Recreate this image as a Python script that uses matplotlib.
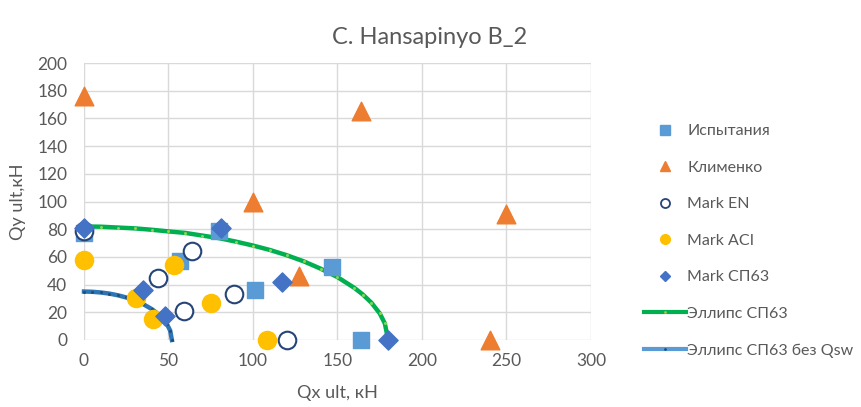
import matplotlib.pyplot as plt
from matplotlib.lines import Line2D

plt.rcParams['font.family'] = ['Lato', 'DejaVu Sans']

# data
test_x = [0, 57, 80, 101, 147, 164]
test_y = [77, 57, 79, 36, 53, 0]

klim_x = [0, 100, 164, 127, 250, 240]
klim_y = [176, 100, 165, 46, 91, 0]

en_x = [0, 44, 64, 59, 89, 120]
en_y = [79, 45, 64, 21, 33, 0]

aci_x = [0, 31, 41, 53, 75, 108]
aci_y = [58, 30, 15, 54, 27, 0]

sp_x = [0, 35, 48, 81, 117, 180]
sp_y = [81, 36, 17, 81, 42, 0]

ell_x = [0, 10, 20, 30, 40, 50, 60, 70, 80, 90, 100, 110, 120, 130, 140,
         150, 160, 165, 170, 175, 178, 180]
ell_y = [82, 81.8, 81.2, 80.6, 79.6, 78.4, 77.3, 75.4, 73.5, 71, 68.2, 65,
         61.2, 56.8, 51.5, 45.4, 37.6, 32.8, 27, 19.2, 12, 0]

ell2_x = [0, 5, 10, 15, 20, 25, 30, 35, 40, 44, 47, 49, 51, 52]
ell2_y = [35, 34.8, 34.3, 33.5, 32.3, 30.7, 28.6, 25.9, 22.4, 18.7, 15.0,
          11.6, 6.8, 0]

fig = plt.figure(figsize=(8.62, 4.07), dpi=100)
ax = fig.add_axes([84 / 862, 1 - 340 / 407, 507 / 862, 277 / 407])

gray = '#595959'

ax.plot(ell_x, ell_y, color='#00B050', lw=3.2, marker='o', ms=2.2,
        mfc='#92D050', mec='none', zorder=2, label='Эллипс СП63')
ax.plot(ell2_x, ell2_y, color='#2E75B6', lw=3.2, marker='o', ms=2.2,
        mfc='#1F4E79', mec='none', zorder=2, label='Эллипс СП63 без Qsw')

ax.scatter(test_x, test_y, marker='s', s=140, color='#5B9BD5', zorder=3,
           label='Испытания')
ax.scatter(klim_x, klim_y, marker='^', s=180, color='#ED7D31', zorder=3,
           label='Клименко')
ax.scatter(en_x, en_y, marker='o', s=160, facecolor='white',
           edgecolor='#264478', linewidth=1.5, zorder=3, label='Mark EN')
ax.scatter(aci_x, aci_y, marker='o', s=170, color='#FFC000', zorder=3,
           label='Mark ACI')
ax.scatter(sp_x, sp_y, marker='D', s=95, color='#4472C4', zorder=3,
           label='Mark СП63')

ax.set_xlim(0, 300)
ax.set_ylim(0, 200)
ax.set_xticks(range(0, 301, 50))
ax.set_yticks(range(0, 201, 20))
ax.grid(True, color='#D9D9D9', lw=1)
ax.set_axisbelow(True)
for s in ax.spines.values():
    s.set_visible(False)
ax.tick_params(axis='y', length=0, labelsize=12.5, colors=gray, pad=12)
ax.tick_params(axis='x', length=0, labelsize=12.5, colors=gray, pad=9)
ax.set_xlabel('Qx ult, кН', fontsize=13, color=gray, labelpad=12)
ax.set_ylabel('Qy ult,кН', fontsize=13, color=gray, labelpad=8)
for c in ax.collections:
    c.set_clip_on(False)
for l in ax.lines:
    l.set_clip_on(False)

fig.text(430 / 862, 1 - 38 / 407, 'C. Hansapinyo B_2', ha='center',
         va='center', fontsize=17, color=gray)

handles = [
    Line2D([], [], ls='none', marker='s', ms=6.5, color='#5B9BD5'),
    Line2D([], [], ls='none', marker='^', ms=7, color='#ED7D31'),
    Line2D([], [], ls='none', marker='o', ms=6.5, mfc='white', mec='#264478',
           mew=1.3),
    Line2D([], [], ls='none', marker='o', ms=7, color='#FFC000'),
    Line2D([], [], ls='none', marker='D', ms=5.5, color='#4472C4'),
    Line2D([], [], color='#00B050', lw=3, marker='o', ms=2, mfc='#92D050',
           mec='none', markevery=[1]),
    Line2D([], [], color='#5B9BD5', lw=3, marker='o', ms=2, mfc='#1F4E79',
           mec='none', markevery=[1]),
]
labels = ['Испытания', 'Клименко', 'Mark EN', 'Mark ACI', 'Mark СП63',
          'Эллипс СП63', 'Эллипс СП63 без Qsw']
leg = fig.legend(handles, labels, loc='upper left',
                 bbox_to_anchor=(636 / 862, 1 - 116 / 407), frameon=False,
                 fontsize=11.5, labelcolor=gray, labelspacing=1.4,
                 handlelength=2.6, handletextpad=0.1, borderpad=0)

fig.savefig('out.png', dpi=100)
